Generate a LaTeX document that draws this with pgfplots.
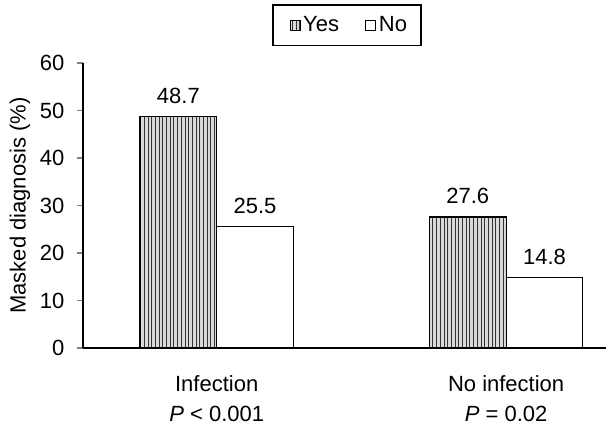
\documentclass[border=0pt]{standalone}
\usepackage{fontspec}
\setmainfont{Liberation Sans}
\usepackage{pgfplots}
\pgfplotsset{compat=1.18}
\usetikzlibrary{patterns.meta}
\begin{document}
\begin{tikzpicture}
\fontsize{11}{13}\selectfont
\path (0,0) rectangle (303.5pt,217.5pt);
\begin{axis}[
  at={(41.5pt,43.5pt)}, anchor=south west,
  scale only axis, width=261.5pt, height=142.5pt,
  /pgf/number format/assume math mode=true,
  font=\fontsize{11}{13}\selectfont,
  ymin=0, ymax=60, ytick={0,10,...,60},
  xmin=-0.462, xmax=1.345,
  xtick={0,1},
  xticklabels={{Infection\\[2pt]\textit{P} < 0.001},{No infection\\[2pt]\textit{P} = 0.02}},
  xticklabel style={align=center, yshift=-7pt},
  yticklabel style={xshift=-2.5pt},
  major x tick style={draw=none},
  axis x line*=bottom, axis y line*=left,
  axis line style={-, line width=0.9pt},
  y axis line style={line width=0.6pt},
  ytick style={line width=0.6pt},
  tick align=outside,
  major tick length=3pt,
  ylabel={Masked diagnosis (\%)},
  ylabel style={at={(axis description cs:-0.1207,0.5)}, anchor=center, rotate=0},
  ybar, bar width=0.265,
  nodes near coords,
  nodes near coords style={yshift=2.5pt, font=\fontsize{11}{13}\selectfont, /pgf/number format/.cd, fixed, precision=1, fixed zerofill, assume math mode=true},
  legend columns=2,
  legend style={at={(0.505,1.058)}, anchor=south, draw=black, line width=0.9pt, font=\fontsize{11}{13}\selectfont, inner xsep=5.5pt, inner ysep=3.5pt,
    nodes={inner xsep=1.5pt},
    /tikz/every even column/.append style={column sep=9pt}},
  legend image code/.code={\pgfpathrectangle{\pgfpoint{0pt}{-2.5pt}}{\pgfpoint{8pt}{5pt}}\pgfusepath{use as bounding box}\draw[#1, line width=0.5pt] (3pt,-2.5pt) rectangle (8pt,2.5pt);},
]
\addplot[bar shift=-0.1325, draw=black, line width=0.6pt, fill=gray!30, postaction={pattern={Lines[angle=90, distance=1.85pt, line width=0.45pt]}, pattern color=black!80}]
  coordinates {(0,48.7) (1,27.6)};
\addplot[bar shift=0.1325, draw=black, line width=0.6pt, fill=white]
  coordinates {(0,25.5) (1,14.8)};
\legend{Yes, No}
\end{axis}
\end{tikzpicture}
\end{document}
